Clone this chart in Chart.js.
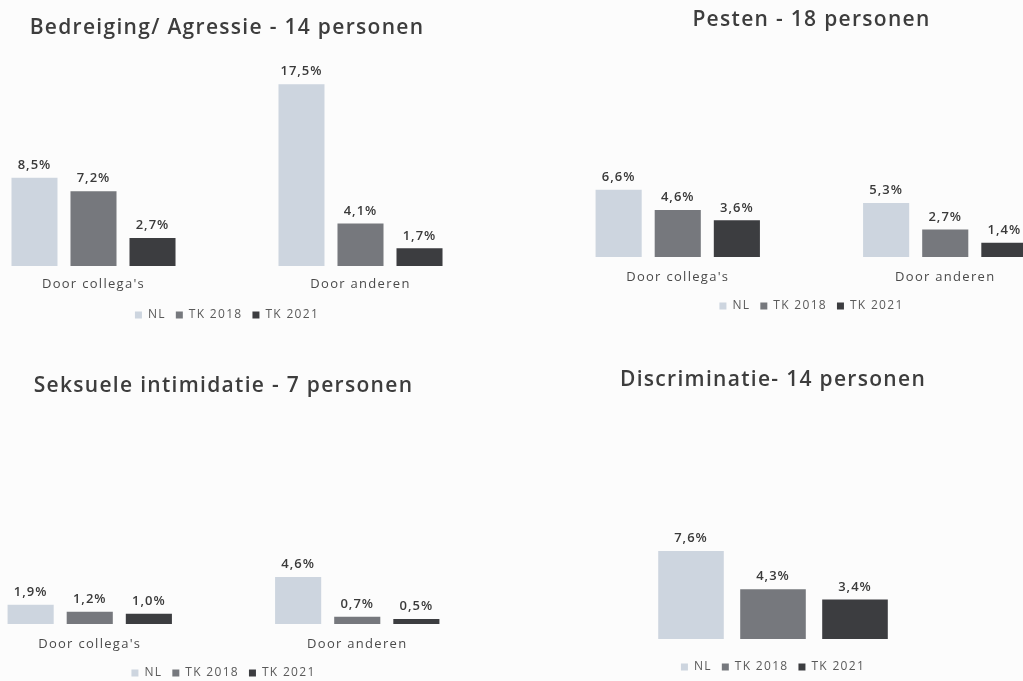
<!DOCTYPE html>
<html>
<head>
<meta charset="utf-8">
<script src="https://cdn.jsdelivr.net/npm/chart.js@4.4.1/dist/chart.umd.min.js"></script>
<style>
  html, body { margin: 0; padding: 0; width: 1023px; height: 681px; overflow: hidden; background: #fcfcfc; }
  #wrap { position: relative; width: 1023px; height: 681px; overflow: hidden; }
  canvas { position: absolute; }
</style>
</head>
<body>
<div id="wrap">
  <canvas id="c1"></canvas>
  <canvas id="c2"></canvas>
  <canvas id="c3"></canvas>
  <canvas id="c4"></canvas>
</div>
<script>
// ---- DATA ----
const categories = ["Door collega's", "Door anderen"];
const discriminatieCategories = [""];
const seriesNames = ["NL", "TK 2018", "TK 2021"];

const agressieTitle = "Bedreiging/ Agressie - 14 personen";
const agressieNL = [8.5, 17.5];
const agressieTK2018 = [7.2, 4.1];
const agressieTK2021 = [2.7, 1.7];

const pestenTitle = "Pesten - 18 personen";
const pestenNL = [6.6, 5.3];
const pestenTK2018 = [4.6, 2.7];
const pestenTK2021 = [3.6, 1.4];

const seksueelTitle = "Seksuele intimidatie - 7 personen";
const seksueelNL = [1.9, 4.6];
const seksueelTK2018 = [1.2, 0.7];
const seksueelTK2021 = [1.0, 0.5];

const discriminatieTitle = "Discriminatie- 14 personen";
const discriminatieNL = [7.6];
const discriminatieTK2018 = [4.3];
const discriminatieTK2021 = [3.4];

// ---- STYLE / LAYOUT ----
const seriesColors = ["#cdd5df", "#76787d", "#3c3d40"];
const FONT = "'Open Sans', 'Noto Sans', sans-serif";
const SPACING = "1.3px";

const spacingPlugin = {
  id: 'spacing',
  beforeLayout(chart) { chart.ctx.letterSpacing = SPACING; },
  beforeDraw(chart) { chart.ctx.letterSpacing = SPACING; }
};

const valueLabels = {
  id: 'valueLabels',
  afterDatasetsDraw(chart) {
    const ctx = chart.ctx;
    ctx.save();
    ctx.letterSpacing = "1px";
    ctx.font = "600 13px " + FONT;
    ctx.fillStyle = "#3a3a3a";
    ctx.textAlign = "center";
    ctx.textBaseline = "bottom";
    chart.data.datasets.forEach((ds, i) => {
      const meta = chart.getDatasetMeta(i);
      meta.data.forEach((el, j) => {
        const v = ds.data[j];
        const txt = v.toFixed(1).replace('.', ',') + '%';
        ctx.fillText(txt, el.x, el.y - 6);
      });
    });
    ctx.restore();
  }
};

function makeChart(id, L, title, cats, nl, tk18, tk21) {
  const canvas = document.getElementById(id);
  const canvasTop = L.titleY - 23;
  const chartTop = canvasTop + 48;
  const legendTop = L.legendY - 17;
  const H = legendTop + 32 - canvasTop;
  canvas.width = L.width;
  canvas.height = H;
  canvas.style.left = L.left + "px";
  canvas.style.top = canvasTop + "px";
  canvas.style.width = L.width + "px";
  canvas.style.height = H + "px";
  const yMax = (L.baseline - chartTop) / L.ppp;
  const axisH = legendTop - L.baseline;
  const series = [nl, tk18, tk21];
  new Chart(canvas, {
    type: 'bar',
    data: {
      labels: cats,
      datasets: seriesNames.map((n, i) => ({
        label: n,
        data: series[i],
        backgroundColor: seriesColors[i],
        borderWidth: 0,
        categoryPercentage: L.catPct,
        barPercentage: L.barPct
      }))
    },
    options: {
      responsive: false,
      animation: false,
      devicePixelRatio: 1,
      layout: { padding: 0 },
      plugins: {
        title: {
          display: true,
          text: title,
          color: "#3d3d3d",
          font: { family: FONT, size: 21, weight: '600', lineHeight: 1.2 },
          padding: { top: 13, bottom: 10 }
        },
        legend: {
          display: true,
          position: 'bottom',
          labels: {
            color: "#5a5a5a",
            font: { family: FONT, size: 12 },
            usePointStyle: true,
            pointStyle: 'rect',
            boxWidth: 7,
            boxHeight: 7,
            padding: 10
          }
        },
        tooltip: { enabled: false }
      },
      scales: {
        x: {
          grid: { display: false, drawTicks: false },
          border: { display: false },
          ticks: {
            display: L.showTicks,
            color: "#4a4a4a",
            font: { family: FONT, size: 13 },
            padding: L.labelY - L.baseline - 8
          },
          afterFit(scale) { scale.height = axisH; }
        },
        y: {
          display: false,
          min: 0,
          max: yMax
        }
      }
    },
    plugins: [spacingPlugin, valueLabels]
  });
}

makeChart('c1', { left: -40, width: 534, titleY: 25, baseline: 266, labelY: 284, legendY: 316, ppp: 10.4, catPct: 0.663, barPct: 0.78, showTicks: true },
  agressieTitle, categories, agressieNL, agressieTK2018, agressieTK2021);
makeChart('c2', { left: 544, width: 535, titleY: 17, baseline: 257, labelY: 277, legendY: 307, ppp: 10.2, catPct: 0.663, barPct: 0.78, showTicks: true },
  pestenTitle, categories, pestenNL, pestenTK2018, pestenTK2021);
makeChart('c3', { left: -44, width: 535, titleY: 383, baseline: 624, labelY: 644, legendY: 674, ppp: 10.2, catPct: 0.663, barPct: 0.78, showTicks: true },
  seksueelTitle, categories, seksueelNL, seksueelTK2018, seksueelTK2021);
makeChart('c4', { left: 573, width: 400, titleY: 377, baseline: 639, labelY: 655, legendY: 668, ppp: 11.6, catPct: 0.615, barPct: 0.8, showTicks: false },
  discriminatieTitle, discriminatieCategories, discriminatieNL, discriminatieTK2018, discriminatieTK2021);
</script>
</body>
</html>
